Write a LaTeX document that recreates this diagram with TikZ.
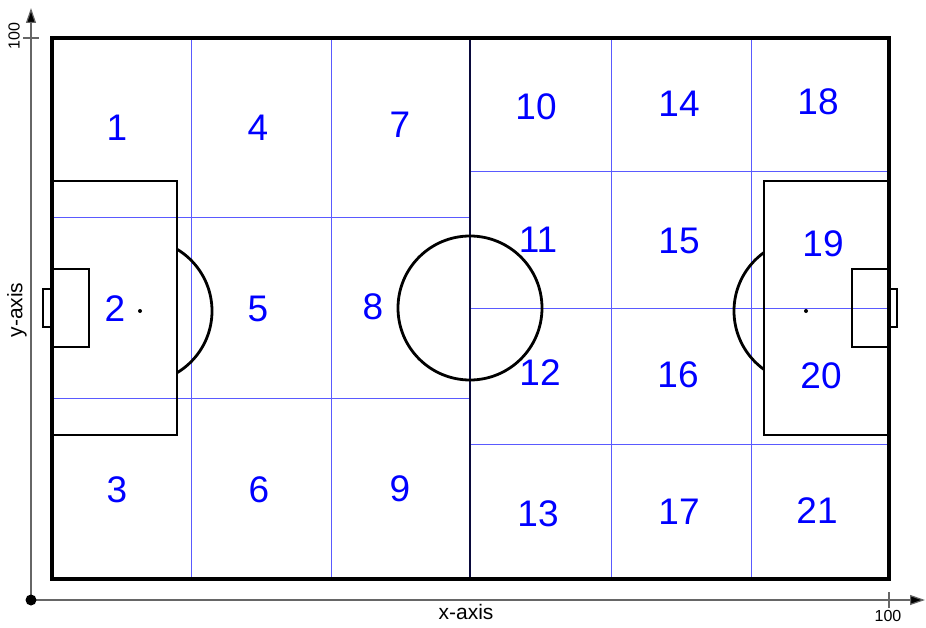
\documentclass[tikz,border=0pt]{standalone}
\usepackage{fontspec}
\setmainfont{Liberation Sans}
\usetikzlibrary{arrows.meta}
\begin{document}
\begin{tikzpicture}[x=1pt,y=-1pt,
  zone/.style={draw={rgb,255:red,90;green,90;blue,255},line width=0.9pt},
  fieldline/.style={draw=black,line width=3.6pt},
  pitchline/.style={draw=black,line width=2.8pt},
  num/.style={text=blue,font=\fontsize{37}{40}\selectfont,inner sep=0pt},
  axisline/.style={draw=black!60,line width=1.2pt},
  small/.style={font=\fontsize{16}{18}\selectfont,inner sep=0pt},
  axlabel/.style={font=\fontsize{21}{24}\selectfont,inner sep=0pt}]
\useasboundingbox (0,0) rectangle (926,628);
% zone grid
\draw[zone] (191,38) -- (191,579);
\draw[zone] (331,38) -- (331,579);
\draw[zone] (52,217) -- (470,217);
\draw[zone] (52,398) -- (470,398);
\draw[zone] (611,38) -- (611,579);
\draw[zone] (751,38) -- (751,579);
\draw[zone] (470,171) -- (889,171);
\draw[zone] (470,308) -- (889,308);
\draw[zone] (470,444) -- (889,444);
% pitch
\draw[pitchline,draw={rgb,255:red,10;green,10;blue,60}] (470,38) -- (470,579);
\draw[pitchline] (470,308) circle (72);
% left side
\draw[pitchline] (52,181) rectangle (177,435);
\draw[pitchline] (52,269) rectangle (89,347);
\draw[pitchline] (43,289) rectangle (52,327);
\fill (140,311) circle (2);
\begin{scope}
\clip (177,200) rectangle (240,420);
\draw[pitchline] (140,311) circle (72);
\end{scope}
% right side
\draw[pitchline] (764,181) rectangle (889,435);
\draw[pitchline] (852,269) rectangle (889,347);
\draw[pitchline] (889,289) rectangle (897,327);
\fill (806,311) circle (2);
\begin{scope}
\clip (700,200) rectangle (764,420);
\draw[pitchline] (806,311) circle (72);
\end{scope}
\draw[fieldline] (52,38) rectangle (889,579);
% axes
\coordinate (O) at (31,600);
\coordinate (Ytip) at (31,8);
\coordinate (Xtip) at (925,600);
\draw[axisline,-{Triangle[length=15pt,width=10pt,fill=black]}] (O) -- (Ytip);
\draw[axisline,-{Triangle[length=15pt,width=10pt,fill=black]}] (O) -- (Xtip);
\fill (O) circle (5.5);
\draw[axisline] (23,38) -- (39,38);
\draw[axisline] (889,592) -- (889,608);
\node[small,rotate=90] (y100) at (14,36) {100};
\node[small] (x100) at (888,616) {100};
\node[axlabel] (xlab) at (466,612) {x-axis};
\node[axlabel,rotate=90] (ylab) at (17,310) {y-axis};
% numbers
\node[num] (n1) at (117,128) {1};
\node[num] (n4) at (258,128) {4};
\node[num] (n7) at (400,125) {7};
\node[num] (n2) at (115,309) {2};
\node[num] (n5) at (258,309) {5};
\node[num] (n8) at (373,307) {8};
\node[num] (n3) at (117,490) {3};
\node[num] (n6) at (259,490) {6};
\node[num] (n9) at (400,489) {9};
\node[num] (n10) at (536,107) {10};
\node[num] (n14) at (679,104) {14};
\node[num] (n18) at (818,102) {18};
\node[num] (n11) at (538,240) {11};
\node[num] (n15) at (679,241) {15};
\node[num] (n19) at (823,244) {19};
\node[num] (n12) at (540,373) {12};
\node[num] (n16) at (678,375) {16};
\node[num] (n20) at (821,376) {20};
\node[num] (n13) at (538,514) {13};
\node[num] (n17) at (679,512) {17};
\node[num] (n21) at (817,511) {21};
\end{tikzpicture}
\end{document}
